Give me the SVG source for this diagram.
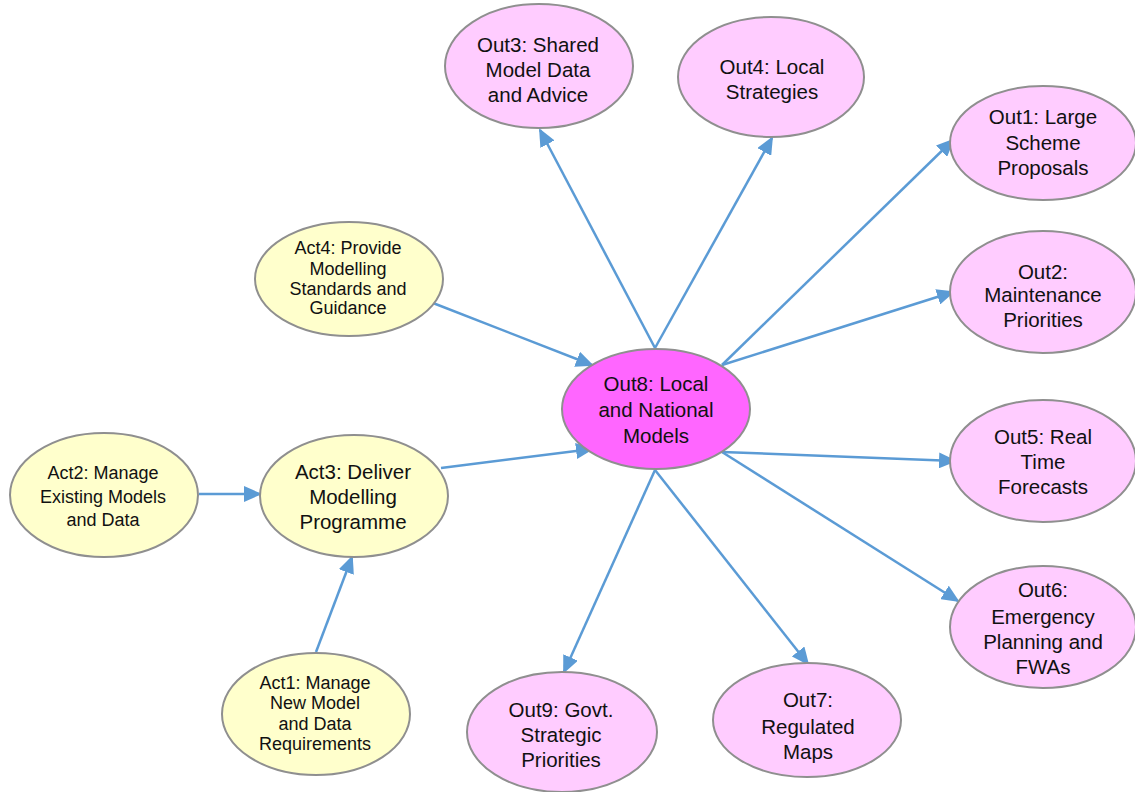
<svg xmlns="http://www.w3.org/2000/svg" width="1135" height="792" viewBox="0 0 1135 792">
  <style>
    .act ellipse { fill: #ffffcc; stroke: #8f8f8f; stroke-width: 2; }
    .out ellipse { fill: #ffccff; stroke: #8f8f8f; stroke-width: 2; }
    .hub ellipse { fill: #ff66ff; stroke: #8f8f8f; stroke-width: 2; }
    text { font-family: "Liberation Sans", Arial, sans-serif; fill: #111; text-anchor: middle; }
    .act text { font-size: 18px; }
    .act.big text { font-size: 20.5px; }
    .out text, .hub text { font-size: 20.5px; }
    .edges line { stroke: #5b9bd5; stroke-width: 2.5; marker-end: url(#arrow); }
  </style>
  <defs>
    <marker id="arrow" markerUnits="userSpaceOnUse" markerWidth="18" markerHeight="16" refX="16" refY="8" orient="auto">
      <path d="M0,0 L18,8 L0,16 z" fill="#5b9bd5"/>
    </marker>
  </defs>
  <rect width="1135" height="792" fill="#ffffff"/>

  <g class="edges">
    <line x1="433" y1="303" x2="592" y2="365"/>
    <line x1="441" y1="468" x2="592" y2="449"/>
    <line x1="199" y1="494" x2="260" y2="494"/>
    <line x1="316" y1="652" x2="352" y2="557"/>
    <line x1="655" y1="348" x2="540" y2="130"/>
    <line x1="655" y1="348" x2="772" y2="138"/>
    <line x1="722" y1="365" x2="953" y2="140"/>
    <line x1="722" y1="365" x2="953" y2="292"/>
    <line x1="722" y1="452" x2="955" y2="461"/>
    <line x1="722" y1="452" x2="958" y2="601"/>
    <line x1="655" y1="470" x2="808" y2="664"/>
    <line x1="655" y1="470" x2="564" y2="672"/>
  </g>

  <g id="out8" class="hub">
    <ellipse cx="656" cy="409" rx="94" ry="60"/>
    <text x="656" y="391">Out8: Local</text>
    <text x="656" y="417">and National</text>
    <text x="656" y="443">Models</text>
  </g>

  <g id="act4" class="act">
    <ellipse cx="349" cy="279" rx="94" ry="57"/>
    <text x="348" y="254">Act4: Provide</text>
    <text x="348" y="275">Modelling</text>
    <text x="348" y="295">Standards and</text>
    <text x="348" y="314">Guidance</text>
  </g>

  <g id="act2" class="act">
    <ellipse cx="104" cy="495" rx="94" ry="62"/>
    <text x="103" y="479">Act2: Manage</text>
    <text x="103" y="503">Existing Models</text>
    <text x="103" y="526">and Data</text>
  </g>

  <g id="act3" class="act big">
    <ellipse cx="354" cy="496" rx="94" ry="61"/>
    <text x="353" y="479">Act3: Deliver</text>
    <text x="353" y="504">Modelling</text>
    <text x="353" y="529">Programme</text>
  </g>

  <g id="act1" class="act">
    <ellipse cx="316" cy="714" rx="94" ry="61"/>
    <text x="315" y="689">Act1: Manage</text>
    <text x="315" y="709">New Model</text>
    <text x="315" y="730">and Data</text>
    <text x="315" y="750">Requirements</text>
  </g>

  <g id="out3" class="out">
    <ellipse cx="539" cy="66" rx="94" ry="62"/>
    <text x="538" y="52">Out3: Shared</text>
    <text x="538" y="77">Model Data</text>
    <text x="538" y="102">and Advice</text>
  </g>

  <g id="out4" class="out">
    <ellipse cx="771" cy="77" rx="93" ry="60"/>
    <text x="772" y="74">Out4: Local</text>
    <text x="772" y="99">Strategies</text>
  </g>

  <g id="out1" class="out">
    <ellipse cx="1043" cy="143" rx="93" ry="57"/>
    <text x="1043" y="124">Out1: Large</text>
    <text x="1043" y="150">Scheme</text>
    <text x="1043" y="175">Proposals</text>
  </g>

  <g id="out2" class="out">
    <ellipse cx="1043" cy="292" rx="93" ry="61"/>
    <text x="1043" y="279">Out2:</text>
    <text x="1043" y="302">Maintenance</text>
    <text x="1043" y="327">Priorities</text>
  </g>

  <g id="out5" class="out">
    <ellipse cx="1043" cy="461" rx="93" ry="61"/>
    <text x="1043" y="444">Out5: Real</text>
    <text x="1043" y="469">Time</text>
    <text x="1043" y="494">Forecasts</text>
  </g>

  <g id="out6" class="out">
    <ellipse cx="1043" cy="627" rx="93" ry="61"/>
    <text x="1043" y="597">Out6:</text>
    <text x="1043" y="624">Emergency</text>
    <text x="1043" y="649">Planning and</text>
    <text x="1043" y="674">FWAs</text>
  </g>

  <g id="out7" class="out">
    <ellipse cx="807" cy="720" rx="94" ry="57"/>
    <text x="808" y="707">Out7:</text>
    <text x="808" y="734">Regulated</text>
    <text x="808" y="759">Maps</text>
  </g>

  <g id="out9" class="out">
    <ellipse cx="562" cy="732" rx="95" ry="60"/>
    <text x="561" y="717">Out9: Govt.</text>
    <text x="561" y="742">Strategic</text>
    <text x="561" y="767">Priorities</text>
  </g>
</svg>
